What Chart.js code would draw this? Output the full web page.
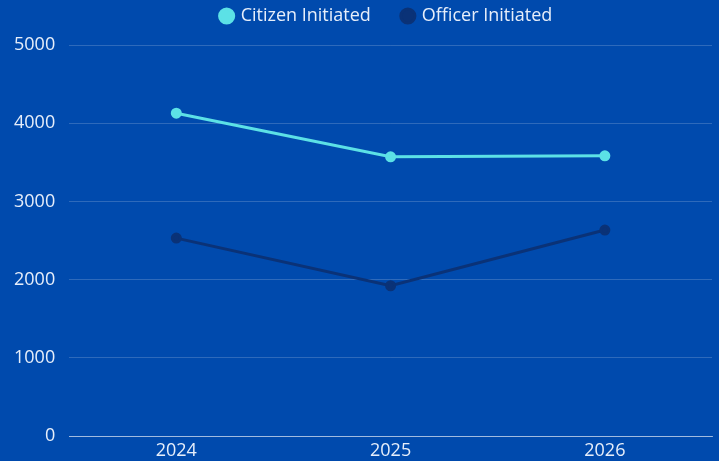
<!DOCTYPE html>
<html><head><meta charset="utf-8">
<script src="https://cdn.jsdelivr.net/npm/chart.js@4/dist/chart.umd.min.js"></script>
<style>html,body{margin:0;padding:0;background:#004aad;}#wrap{width:719px;height:461px;}</style>
</head><body><div id="wrap"><canvas id="c"></canvas></div>
<script>
const categories = ["2024", "2025", "2026"];
const citizenInitiated = [4128, 3571, 3583];
const officerInitiated = [2532, 1923, 2635];
const seriesNames = ["Citizen Initiated", "Officer Initiated"];

Chart.defaults.font.family = "'Open Sans', sans-serif";
Chart.defaults.font.size = 18;
Chart.defaults.color = "#e6eefa";

const legendSpacer = {
  id: 'legendSpacer',
  afterInit(chart) {
    const lg = chart.legend;
    if (!lg) return;
    const orig = lg.fit;
    lg.fit = function () { orig.call(this); this.height += 10; };
  },
  afterLayout(chart) {
    const lg = chart.legend;
    if (!lg) return;
    lg.left += 30; lg.right += 30;
  }
};

new Chart(document.getElementById('c'), {
  type: 'line',
  data: {
    labels: categories,
    datasets: [
      {label: seriesNames[0], data: citizenInitiated, borderColor: '#5ce1e6', backgroundColor: '#5ce1e6', borderWidth: 3, pointRadius: 4, pointBackgroundColor: '#5ce1e6', tension: 0},
      {label: seriesNames[1], data: officerInitiated, borderColor: '#0a3277', backgroundColor: '#0a3277', borderWidth: 3, pointRadius: 4, pointBackgroundColor: '#0a3277', tension: 0}
    ]
  },
  plugins: [legendSpacer],
  options: {
    responsive: true, maintainAspectRatio: false, animation: false,
    layout: {padding: {left: 0, right: 5, top: -25, bottom: -6}},
    plugins: {
      legend: {position: 'top', labels: {usePointStyle: true, pointStyle: 'circle', boxWidth: 10, boxHeight: 10, padding: 32, font: {size: 18}}},
      tooltip: {enabled: false}
    },
    scales: {
      x: {offset: true, grid: {display: false, drawTicks: false}, border: {color: 'rgba(255,255,255,0.55)'}, ticks: {padding: 4}},
      y: {min: 0, max: 5000, ticks: {stepSize: 1000, padding: 14, callback: v => String(v)}, grid: {color: 'rgba(255,255,255,0.18)', drawTicks: false}, border: {display: false}}
    }
  }
});
</script></body></html>
